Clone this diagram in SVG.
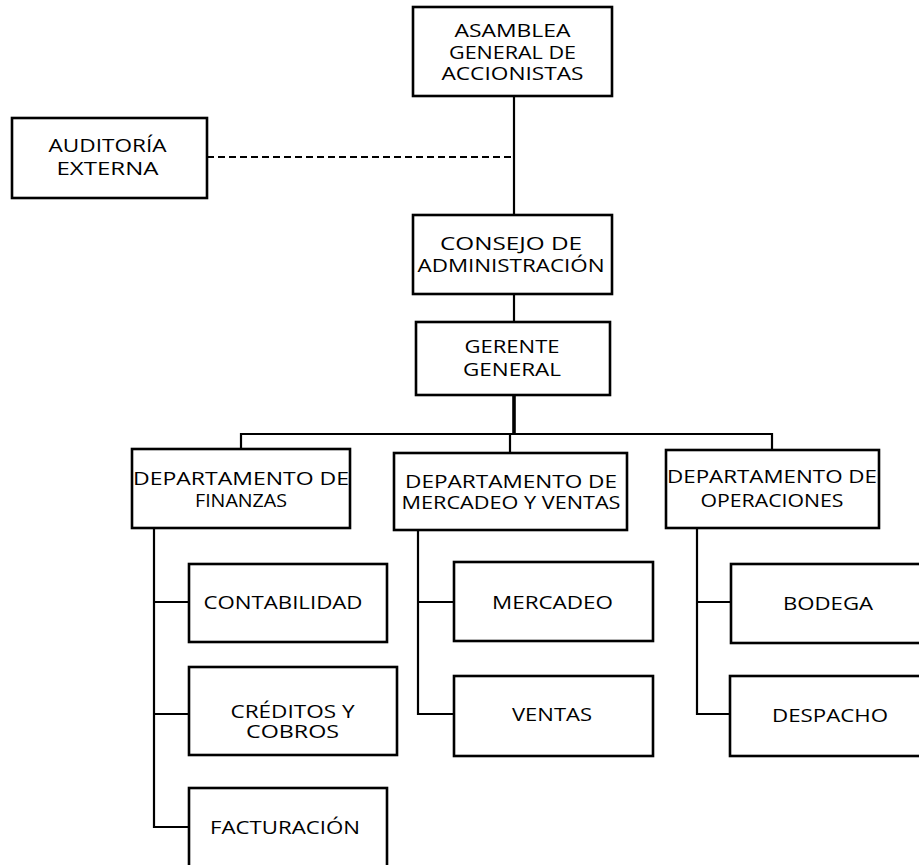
<svg xmlns="http://www.w3.org/2000/svg" width="919" height="865" viewBox="0 0 919 865">
<style>
.box{fill:#fff;stroke:#000;stroke-width:2.6}
.ln{fill:none;stroke:#000;stroke-width:2.2}
.dash{fill:none;stroke:#000;stroke-width:2.2;stroke-dasharray:7 4}
.thick{fill:none;stroke:#000;stroke-width:3.6}
text{font-family:"Open Sans","Liberation Sans",sans-serif;font-size:19px;fill:#000;text-anchor:middle}
</style>
<rect width="919" height="865" fill="#fff"/>
<g id="connectors">
<path class="ln" d="M514 96V215"/>
<path class="dash" d="M207 157H514"/>
<path class="ln" d="M514 294V322"/>
<path class="thick" d="M514 395V434"/>
<path class="ln" d="M241 449V434H772V450M510 434V453"/>
<path class="ln" d="M154 528V827H189M154 602H189M154 714H189"/>
<path class="ln" d="M418 530V714H454M418 602H454"/>
<path class="ln" d="M697 528V714H731M697 602H731"/>
</g>
<g id="asamblea"><rect class="box" x="413" y="7" width="199" height="89"/>
<text x="512.5" y="37" textLength="116" lengthAdjust="spacingAndGlyphs">ASAMBLEA</text>
<text x="512.5" y="59" textLength="127" lengthAdjust="spacingAndGlyphs">GENERAL DE</text>
<text x="512.5" y="80" textLength="142" lengthAdjust="spacingAndGlyphs">ACCIONISTAS</text></g>
<g id="auditoria"><rect class="box" x="12" y="118" width="195" height="80"/>
<text x="107.5" y="152" textLength="118" lengthAdjust="spacingAndGlyphs">AUDITORÍA</text>
<text x="107.5" y="175" textLength="102" lengthAdjust="spacingAndGlyphs">EXTERNA</text></g>
<g id="consejo"><rect class="box" x="413" y="215" width="199" height="79"/>
<text x="511" y="250" textLength="142" lengthAdjust="spacingAndGlyphs">CONSEJO DE</text>
<text x="511" y="272" textLength="187" lengthAdjust="spacingAndGlyphs">ADMINISTRACIÓN</text></g>
<g id="gerente"><rect class="box" x="416" y="322" width="194" height="73"/>
<text x="512" y="353" textLength="95" lengthAdjust="spacingAndGlyphs">GERENTE</text>
<text x="512" y="376" textLength="98" lengthAdjust="spacingAndGlyphs">GENERAL</text></g>
<g id="finanzas"><rect class="box" x="132" y="449" width="218" height="79"/>
<text x="241" y="485" textLength="216" lengthAdjust="spacingAndGlyphs">DEPARTAMENTO DE</text>
<text x="241" y="507" textLength="92" lengthAdjust="spacingAndGlyphs">FINANZAS</text></g>
<g id="mercadeo-ventas"><rect class="box" x="394" y="453" width="233" height="77"/>
<text x="511" y="488" textLength="212" lengthAdjust="spacingAndGlyphs">DEPARTAMENTO DE</text>
<text x="511" y="509" textLength="219" lengthAdjust="spacingAndGlyphs">MERCADEO Y VENTAS</text></g>
<g id="operaciones"><rect class="box" x="666" y="450" width="213" height="78"/>
<text x="772" y="483" textLength="210" lengthAdjust="spacingAndGlyphs">DEPARTAMENTO DE</text>
<text x="772" y="507" textLength="143" lengthAdjust="spacingAndGlyphs">OPERACIONES</text></g>
<g id="contabilidad"><rect class="box" x="189" y="564" width="198" height="78"/>
<text x="283" y="609" textLength="159" lengthAdjust="spacingAndGlyphs">CONTABILIDAD</text></g>
<g id="creditos"><rect class="box" x="189" y="667" width="208" height="88"/>
<text x="292.5" y="718" textLength="124" lengthAdjust="spacingAndGlyphs">CRÉDITOS Y</text>
<text x="292.5" y="738" textLength="93" lengthAdjust="spacingAndGlyphs">COBROS</text></g>
<g id="facturacion"><rect class="box" x="189" y="788" width="198" height="95"/>
<text x="285" y="834" textLength="150" lengthAdjust="spacingAndGlyphs">FACTURACIÓN</text></g>
<g id="mercadeo"><rect class="box" x="454" y="562" width="199" height="79"/>
<text x="552.5" y="609" textLength="121" lengthAdjust="spacingAndGlyphs">MERCADEO</text></g>
<g id="ventas"><rect class="box" x="454" y="676" width="199" height="80"/>
<text x="552" y="721" textLength="80" lengthAdjust="spacingAndGlyphs">VENTAS</text></g>
<g id="bodega"><rect class="box" x="731" y="564" width="200" height="79"/>
<text x="828" y="610" textLength="90" lengthAdjust="spacingAndGlyphs">BODEGA</text></g>
<g id="despacho"><rect class="box" x="730" y="676" width="201" height="80"/>
<text x="830" y="722" textLength="116" lengthAdjust="spacingAndGlyphs">DESPACHO</text></g>
</svg>
